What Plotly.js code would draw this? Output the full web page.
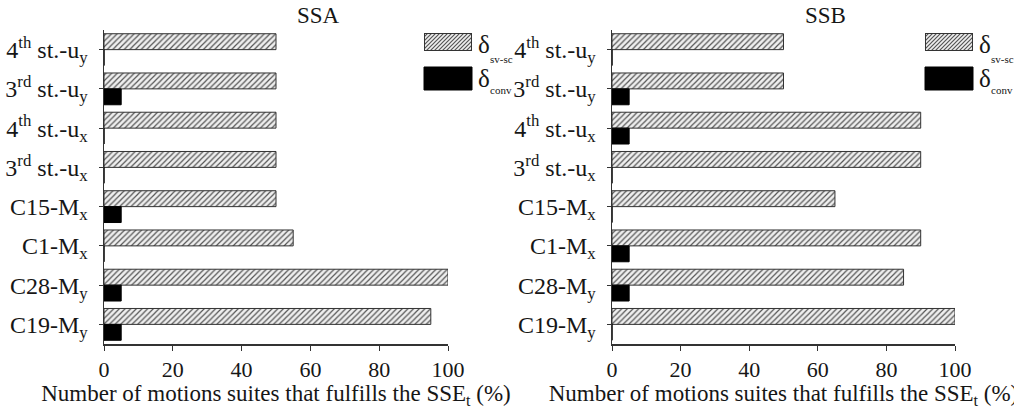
<!DOCTYPE html>
<html><head><meta charset="utf-8">
<script src="https://cdn.plot.ly/plotly-3.0.1.min.js"></script>
<style>html,body{margin:0;padding:0;background:#fff}#chart{width:1014px;height:409px}</style>
</head><body><div id="chart"></div>
<script>
// Categories, top to bottom
const categories = [
  "4<sup>th</sup> st.-u<sub>y</sub>",
  "3<sup>rd</sup> st.-u<sub>y</sub>",
  "4<sup>th</sup> st.-u<sub>x</sub>",
  "3<sup>rd</sup> st.-u<sub>x</sub>",
  "C15-M<sub>x</sub>",
  "C1-M<sub>x</sub>",
  "C28-M<sub>y</sub>",
  "C19-M<sub>y</sub>"
];
const ssaSvSc = [50, 50, 50, 50, 50, 55, 100, 95];
const ssaConv = [0, 5, 0, 0, 5, 0, 5, 5];
const ssbSvSc = [50, 50, 90, 90, 65, 90, 85, 100];
const ssbConv = [0, 5, 5, 0, 0, 5, 5, 0];
const panelTitles = ["SSA", "SSB"];
const seriesNames = ["δ<sub>sv-sc</sub>", "δ<sub>conv</sub>"];
const legendSymbol = "δ";
const legendSubs = ["sv-sc", "conv"];
const xTitle = "Number of motions suites that fulfills the SSE<sub>t</sub> (%)";
const xTicks = [0, 20, 40, 60, 80, 100];

const W = 1014, H = 409;
const X = p => p / W, Y = p => 1 - p / H;
const FONT = "Liberation Serif, Times New Roman, serif";
const INK = "#161616";

const hatch = {shape: "/", fgcolor: "#555", bgcolor: "#efefef", size: 4, solidity: 0.3};
function svTrace(vals, xa, ya) {
  return {type: "bar", orientation: "h", y: categories, x: vals, xaxis: xa, yaxis: ya,
    name: seriesNames[0], showlegend: false,
    marker: {color: "#efefef", pattern: hatch, line: {color: "#333", width: 1}}};
}
function convTrace(vals, xa, ya) {
  return {type: "bar", orientation: "h", y: categories, x: vals, xaxis: xa, yaxis: ya,
    name: seriesNames[1], showlegend: false,
    marker: {color: "#000", line: {color: "#000", width: 1}}};
}
const data = [
  svTrace(ssaSvSc, "x", "y"), convTrace(ssaConv, "x", "y"),
  svTrace(ssbSvSc, "x2", "y2"), convTrace(ssbConv, "x2", "y2")
];

const yDom = [Y(344), Y(30)];
function xax(dom, anchor) {
  return {domain: dom, anchor: anchor, range: [0, 100], tickvals: xTicks, ticks: "outside", ticklen: 5,
    tickcolor: "#333", showline: true, linecolor: "#333", linewidth: 1.5, showgrid: false, zeroline: false,
    tickfont: {family: FONT, size: 22, color: INK},
    title: {text: xTitle, font: {family: FONT, size: 23, color: INK}, standoff: 3}};
}
function yax(anchor) {
  return {domain: yDom, anchor: anchor, type: "category", range: [7.5, -0.5], ticks: "outside", ticklen: 4,
    tickcolor: "#333", showline: true, linecolor: "#333", linewidth: 1.5, showgrid: false, zeroline: false,
    ticklabelstandoff: 6,
    tickfont: {family: FONT, size: 24, color: INK}};
}

const hatchSvg = "data:image/svg+xml;utf8," + encodeURIComponent(
  '<svg xmlns="http://www.w3.org/2000/svg" width="48" height="18">' +
  '<defs><pattern id="p" width="4" height="4" patternUnits="userSpaceOnUse">' +
  '<rect width="4" height="4" fill="#efefef"/><path d="M-1,5 L5,-1 M3,5 L5,3 M-1,1 L1,-1" stroke="#555" stroke-width="1.2"/></pattern></defs>' +
  '<rect x="0.5" y="0.5" width="47" height="17" fill="url(#p)" stroke="#333" stroke-width="1"/></svg>');

const legends = [{x0: 424, tx: 476}, {x0: 925, tx: 977}];
const shapes = [], images = [], annotations = [];
legends.forEach(l => {
  images.push({source: hatchSvg, xref: "paper", yref: "paper", x: X(l.x0), y: Y(33),
    sizex: 48 / W, sizey: 18 / H, sizing: "stretch", xanchor: "left", yanchor: "top", layer: "above"});
  shapes.push({type: "rect", xref: "paper", yref: "paper", x0: X(l.x0), x1: X(l.x0 + 48), y0: Y(90), y1: Y(67),
    fillcolor: "#000", line: {color: "#000", width: 1}});
  [[44, 59], [78, 90]].forEach((yy, i) => {
    annotations.push({text: legendSymbol, xref: "paper", yref: "paper", x: X(l.tx), y: Y(yy[0]), xanchor: "left", yanchor: "middle",
      showarrow: false, font: {family: FONT, size: 25, color: INK}});
    annotations.push({text: legendSubs[i], xref: "paper", yref: "paper", x: X(l.tx + 12), y: Y(yy[1]), xanchor: "left", yanchor: "middle",
      showarrow: false, font: {family: FONT, size: 11, color: INK}});
  });
});
annotations.push({text: panelTitles[0], xref: "paper", yref: "paper", x: X(318), y: Y(16), xanchor: "center", yanchor: "middle",
  showarrow: false, font: {family: FONT, size: 23, color: INK}});
annotations.push({text: panelTitles[1], xref: "paper", yref: "paper", x: X(825), y: Y(16), xanchor: "center", yanchor: "middle",
  showarrow: false, font: {family: FONT, size: 23, color: INK}});

const layout = {
  width: W, height: H, margin: {l: 0, r: 0, t: 0, b: 0},
  paper_bgcolor: "#fff", plot_bgcolor: "rgba(0,0,0,0)",
  barmode: "group", bargap: 0.19, bargroupgap: 0,
  showlegend: false,
  xaxis: xax([X(104), X(448)], "y"), yaxis: yax("x"),
  xaxis2: xax([X(612), X(955)], "y2"), yaxis2: yax("x2"),
  shapes: shapes, images: images, annotations: annotations,
  font: {family: FONT}
};
Plotly.newPlot("chart", data, layout, {staticPlot: true});
</script></body></html>
